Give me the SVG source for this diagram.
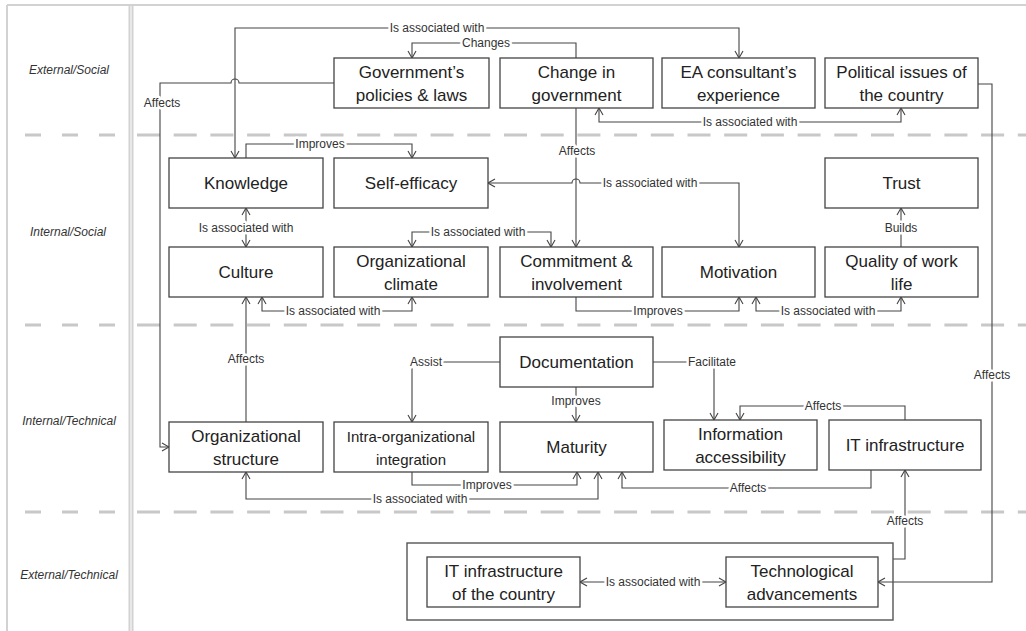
<svg xmlns="http://www.w3.org/2000/svg" width="1026" height="631" viewBox="0 0 1026 631">
<style>
.frame{stroke:#d2d2d2;stroke-width:2;fill:none}
.sep{stroke:#c8c8c8;stroke-width:3;fill:none}
.lane{font-family:"Liberation Sans",Arial,sans-serif;font-size:12px;font-style:italic;fill:#333;text-anchor:middle}
.box{fill:#fff;stroke:#444;stroke-width:1.3}
.nt{font-family:"Liberation Sans",Arial,sans-serif;font-size:17px;fill:#222;text-anchor:middle}
.nts{font-family:"Liberation Sans",Arial,sans-serif;font-size:15px;fill:#222;text-anchor:middle}
.c{fill:none;stroke:#444;stroke-width:1.1}
.e{marker-end:url(#arr)}
.b{marker-start:url(#arr);marker-end:url(#arr)}
.lb{font-family:"Liberation Sans",Arial,sans-serif;font-size:12px;fill:#333;text-anchor:middle;stroke:#fff;stroke-width:5;paint-order:stroke;stroke-linejoin:round}
</style>
<defs>
<marker id="arr" viewBox="0 0 10 10" refX="9.5" refY="5" markerWidth="10" markerHeight="10" markerUnits="userSpaceOnUse" orient="auto-start-reverse">
<path d="M2.5,1 L9.5,5 L2.5,9" fill="none" stroke="#444" stroke-width="1.1"/>
</marker>
</defs>
<rect width="1026" height="631" fill="#fff"/>
<g id="frame">
<line class="frame" x1="7" y1="5" x2="1026" y2="5"/>
<line class="frame" x1="7" y1="5" x2="7" y2="631"/>
<line class="frame" x1="129.5" y1="5" x2="129.5" y2="631"/>
<line class="frame" x1="132.5" y1="5" x2="132.5" y2="631"/>
<g class="sep">
<line x1="25" y1="135" x2="128" y2="135" stroke-dasharray="16 21"/>
<line x1="137" y1="135" x2="1026" y2="135" stroke-dasharray="23 13.7"/>
<line x1="25" y1="325" x2="128" y2="325" stroke-dasharray="16 21"/>
<line x1="137" y1="325" x2="1026" y2="325" stroke-dasharray="23 13.7"/>
<line x1="25" y1="512" x2="128" y2="512" stroke-dasharray="16 21"/>
<line x1="137" y1="512" x2="1026" y2="512" stroke-dasharray="23 13.7"/>
</g>
<text class="lane" x="69" y="74">External/Social</text>
<text class="lane" x="68" y="236">Internal/Social</text>
<text class="lane" x="69" y="425">Internal/Technical</text>
<text class="lane" x="69" y="579">External/Technical</text>
</g>
<g id="connectors">
<path class="c b" d="M235,158 V28 H739 V58"/>
<text class="lb" x="437" y="32">Is associated with</text>
<path class="c e" d="M334,83 H239 a4,4 0 0 0 -8,0 H160 V447 H169"/>
<text class="lb" x="162" y="107">Affects</text>
<path class="c e" d="M576,58 V43 H412 V58"/>
<text class="lb" x="486" y="47">Changes</text>
<path class="c b" d="M599,108 V122 H901 V108"/>
<text class="lb" x="750" y="126">Is associated with</text>
<path class="c e" d="M576,108 V247"/>
<text class="lb" x="577" y="155">Affects</text>
<path class="c b" d="M488,183 H572 a4,4 0 0 1 8,0 H739 V247"/>
<text class="lb" x="650" y="187">Is associated with</text>
<path class="c e" d="M246,158 V144 H412 V158"/>
<text class="lb" x="320" y="148">Improves</text>
<path class="c b" d="M246,208 V247"/>
<text class="lb" x="246" y="232">Is associated with</text>
<path class="c b" d="M412,247 V232 H551 V247"/>
<text class="lb" x="478" y="236">Is associated with</text>
<path class="c b" d="M262,297 V311 H412 V297"/>
<text class="lb" x="333" y="315">Is associated with</text>
<path class="c e" d="M246,422 V297"/>
<text class="lb" x="246" y="363">Affects</text>
<path class="c e" d="M576,297 V311 H739 V297"/>
<text class="lb" x="658" y="315">Improves</text>
<path class="c b" d="M756,297 V311 H901 V297"/>
<text class="lb" x="828" y="315">Is associated with</text>
<path class="c e" d="M901,247 V208"/>
<text class="lb" x="901" y="232">Builds</text>
<path class="c e" d="M978,84 H992 V582 H878"/>
<text class="lb" x="992" y="379">Affects</text>
<path class="c e" d="M500,362 H412 V422"/>
<text class="lb" x="426" y="366">Assist</text>
<path class="c e" d="M653,362 H714 V420"/>
<text class="lb" x="712" y="366">Facilitate</text>
<path class="c e" d="M576,387 V422"/>
<text class="lb" x="576" y="405">Improves</text>
<path class="c e" d="M905,420 V406 H740 V420"/>
<text class="lb" x="823" y="410">Affects</text>
<path class="c e" d="M871,470 V488 H622 V472"/>
<text class="lb" x="748" y="492">Affects</text>
<path class="c e" d="M412,472 V485 H577 V472"/>
<text class="lb" x="487" y="489">Improves</text>
<path class="c b" d="M246,472 V499 H598 V472"/>
<text class="lb" x="420" y="503">Is associated with</text>
<path class="c e" d="M893,559 H905 V470"/>
<text class="lb" x="905" y="525">Affects</text>
<path class="c b" d="M580,582 H726"/>
<text class="lb" x="653" y="586">Is associated with</text>
</g>
<g id="n-policies"><rect class="box" x="334" y="58" width="155" height="50"/><text class="nt" x="411.5" y="77.5">Government’s</text><text class="nt" x="411.5" y="100.5">policies &amp; laws</text></g>
<g id="n-changegov"><rect class="box" x="500" y="58" width="153" height="50"/><text class="nt" x="576.5" y="77.5">Change in</text><text class="nt" x="576.5" y="100.5">government</text></g>
<g id="n-consultant"><rect class="box" x="662" y="58" width="153" height="50"/><text class="nt" x="738.5" y="77.5">EA consultant’s</text><text class="nt" x="738.5" y="100.5">experience</text></g>
<g id="n-political"><rect class="box" x="825" y="58" width="153" height="50"/><text class="nt" x="901.5" y="77.5">Political issues of</text><text class="nt" x="901.5" y="100.5">the country</text></g>
<g id="n-knowledge"><rect class="box" x="169" y="158" width="154" height="50"/><text class="nt" x="246" y="189">Knowledge</text></g>
<g id="n-selfefficacy"><rect class="box" x="334" y="158" width="154" height="50"/><text class="nt" x="411" y="189">Self-efficacy</text></g>
<g id="n-trust"><rect class="box" x="825" y="158" width="153" height="50"/><text class="nt" x="901.5" y="189">Trust</text></g>
<g id="n-culture"><rect class="box" x="169" y="247" width="154" height="50"/><text class="nt" x="246" y="278">Culture</text></g>
<g id="n-climate"><rect class="box" x="334" y="247" width="154" height="50"/><text class="nt" x="411" y="266.5">Organizational</text><text class="nt" x="411" y="289.5">climate</text></g>
<g id="n-commitment"><rect class="box" x="500" y="247" width="153" height="50"/><text class="nt" x="576.5" y="266.5">Commitment &amp;</text><text class="nt" x="576.5" y="289.5">involvement</text></g>
<g id="n-motivation"><rect class="box" x="662" y="247" width="153" height="50"/><text class="nt" x="738.5" y="278">Motivation</text></g>
<g id="n-quality"><rect class="box" x="825" y="247" width="153" height="50"/><text class="nt" x="901.5" y="266.5">Quality of work</text><text class="nt" x="901.5" y="289.5">life</text></g>
<g id="n-documentation"><rect class="box" x="500" y="337" width="153" height="50"/><text class="nt" x="576.5" y="368">Documentation</text></g>
<g id="n-orgstructure"><rect class="box" x="169" y="422" width="154" height="50"/><text class="nt" x="246" y="441.5">Organizational</text><text class="nt" x="246" y="464.5">structure</text></g>
<g id="n-intraorg"><rect class="box" x="334" y="422" width="154" height="50"/><text class="nts" x="411" y="441.5">Intra-organizational</text><text class="nts" x="411" y="464.5">integration</text></g>
<g id="n-maturity"><rect class="box" x="500" y="422" width="153" height="50"/><text class="nt" x="576.5" y="453">Maturity</text></g>
<g id="n-infoaccess"><rect class="box" x="664" y="420" width="153" height="50"/><text class="nt" x="740.5" y="439.5">Information</text><text class="nt" x="740.5" y="462.5">accessibility</text></g>
<g id="n-itinfra"><rect class="box" x="829" y="420" width="152" height="50"/><text class="nt" x="905" y="451">IT infrastructure</text></g>
<g id="n-external-tech"><rect x="407" y="543" width="486" height="77" fill="none" stroke="#555" stroke-width="1.4"/></g>
<g id="n-itcountry"><rect class="box" x="427" y="557" width="153" height="50"/><text class="nt" x="503.5" y="576.5">IT infrastructure</text><text class="nt" x="503.5" y="599.5">of the country</text></g>
<g id="n-techadv"><rect class="box" x="726" y="557" width="152" height="50"/><text class="nt" x="802" y="576.5">Technological</text><text class="nt" x="802" y="599.5">advancements</text></g>
</svg>
